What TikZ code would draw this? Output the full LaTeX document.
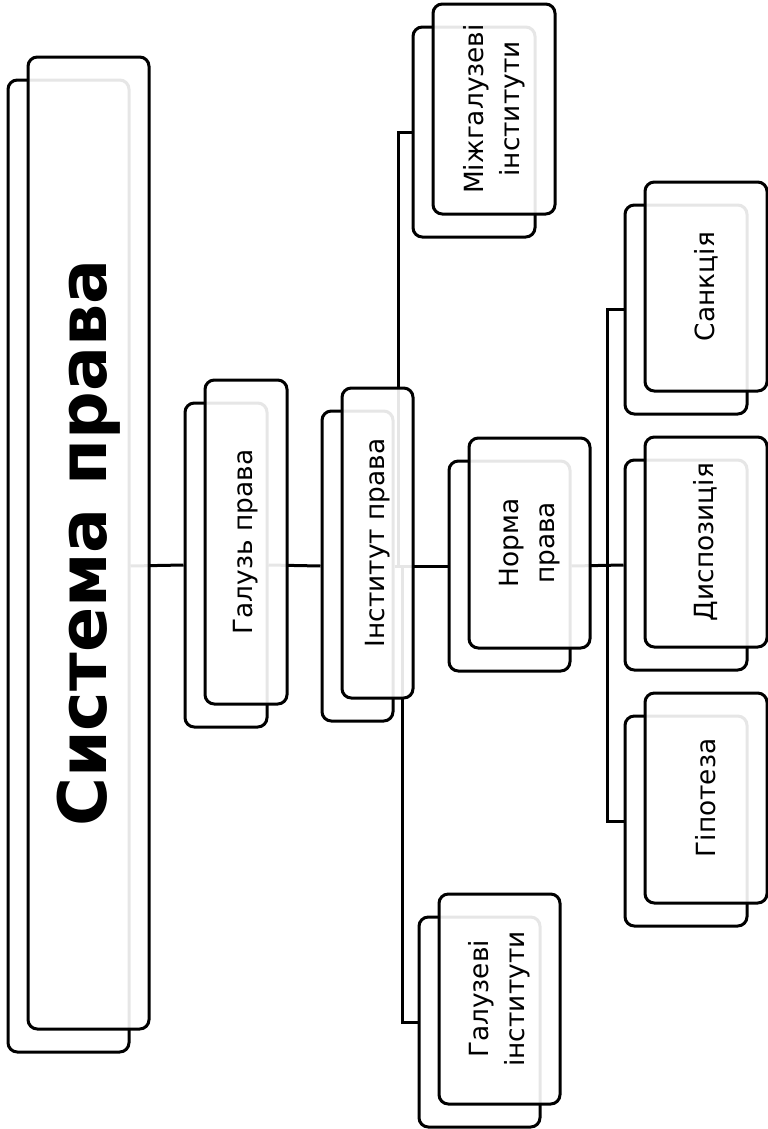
\documentclass[tikz,border=0pt]{standalone}
\usepackage{fontspec}
\setmainfont{DejaVu Sans}
\usetikzlibrary{backgrounds}
\tikzset{
  backbox/.style={draw=black, line width=2.25pt, rounded corners=7pt, fill=white, inner sep=0pt},
  frontbox/.style={draw=black, line width=2.25pt, rounded corners=7pt, fill=white,
    fill opacity=0.9, text opacity=1, inner sep=0pt, rotate=90, align=center,
    font=\fontsize{19.8}{27}\selectfont},
  titlefont/.style={font=\fontsize{50}{60}\selectfont\bfseries},
  link/.style={draw=black, line width=2.25pt}
}
\newcommand\twobox[7][]{%
  \node[backbox, minimum width={#5*0.75pt}, minimum height={#6*0.75pt}] (#2B) at (#3,#4) {};
  \node[frontbox, #1, minimum width={#6*0.75pt}, minimum height={#5*0.75pt}] (#2F) at ({#3+20},{#4-23}) {#7};
}
\begin{document}
\begin{tikzpicture}[x=0.75pt,y=-0.75pt]
\useasboundingbox (0,0) rectangle (768,1129);
\twobox[titlefont]{sys}{68.5}{566}{121}{972}{Система права}
\twobox{gal}{226}{565}{82}{324}{Галузь права}
\twobox{inst}{357.5}{566}{71}{310}{Інститут права}
\twobox{mizh}{474}{132}{122}{210}{Міжгалузеві\\інститути}
\twobox{galuz}{479.5}{1022}{121}{210}{Галузеві\\інститути}
\twobox{norm}{509.5}{566}{121}{210}{Норма\\права}
\twobox{sank}{686}{309.5}{122}{209}{Санкція}
\twobox{disp}{686}{565}{122}{210}{Диспозиція}
\twobox{hip}{686}{821}{122}{210}{Гіпотеза}
\coordinate (nj) at (607,566);
\begin{pgfonlayer}{background}
  \draw[link] (sysB.east) -- (galB.west);
  \draw[link] (galB.east) -- (instB.west);
  \draw[link] (instB.east) -- (normB.west);
  \draw[link] ([xshift=3pt]instB.east) |- (mizhB.west);
  \draw[link] ([xshift=6pt]instB.east) |- (galuzB.west);
  \draw[link] (normB.east) -- (dispB.west);
  \draw[link] (nj) |- (sankB.west);
  \draw[link] (nj) |- (hipB.west);
\end{pgfonlayer}
\end{tikzpicture}
\end{document}
